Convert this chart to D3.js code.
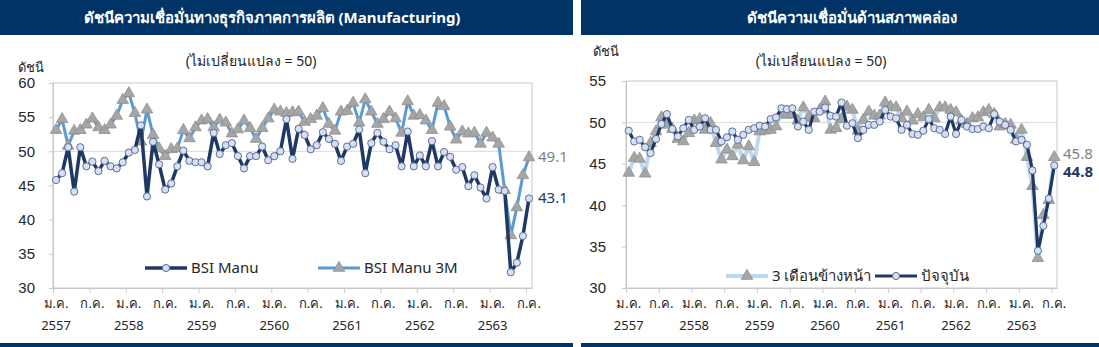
<!DOCTYPE html>
<html>
<head>
<meta charset="utf-8">
<script src="https://cdn.jsdelivr.net/npm/d3@7"></script>
<style>
  html, body { margin: 0; padding: 0; background: #fff; }
  svg { display: block; font-family: "Segoe UI", "Leelawadee UI", Tahoma, "Noto Sans", sans-serif; }
</style>
</head>
<body>
<svg id="chart" width="1099" height="347"></svg>
<script>
// monthly categories, ม.ค. 2557 .. ก.ค. 2563
var startYear = 2557, monthCount = 79;
var monthNames = ["ม.ค.", "ก.ค."];
var yearLabels = ["2557", "2558", "2559", "2560", "2561", "2562", "2563"];
var yTicks = [30, 35, 40, 45, 50, 55, 60];
var yTicksLiq = [30, 35, 40, 45, 50, 55];

// BSI ภาคการผลิต
var bsiManu = [45.8, 46.8, 50.6, 44.1, 50.6, 47.8, 48.5, 47.1, 48.6, 47.8, 47.5, 48.4,
  49.8, 50.2, 53.8, 43.4, 51.4, 48.1, 44.4, 45.3, 47.8, 50.1, 48.6, 48.4,
  48.4, 47.8, 52.7, 49.6, 50.9, 51.2, 49.3, 47.5, 49.3, 49.3, 50.7, 48.7,
  49.3, 50.0, 54.7, 48.9, 53.3, 52.4, 50.3, 50.9, 52.8, 51.8, 51.1, 48.6,
  50.7, 51.1, 53.2, 46.8, 51.2, 52.7, 51.4, 50.3, 50.9, 47.8, 52.9, 47.8,
  49.4, 47.8, 51.5, 47.8, 49.9, 49.2, 47.3, 47.7, 44.9, 46.5, 44.7, 43.1,
  47.7, 44.4, 44.2, 32.3, 33.7, 37.6, 43.1];
var bsiManu3M = [53.1, 54.7, 50.8, 53.0, 53.1, 53.9, 54.8, 53.5, 53.1, 53.9, 55.2, 57.5,
  58.5, 55.6, 51.4, 56.1, 52.4, 50.4, 49.3, 50.3, 50.4, 53.1, 51.9, 53.5,
  54.5, 54.7, 53.5, 54.6, 54.2, 52.6, 53.2, 54.5, 53.4, 51.8, 53.4, 54.8,
  56.1, 55.8, 55.6, 55.7, 55.8, 54.3, 54.7, 55.2, 56.3, 54.0, 53.0, 55.8,
  55.9, 57.1, 54.2, 57.6, 55.8, 54.0, 54.7, 55.8, 54.8, 52.7, 57.3, 55.2,
  55.3, 54.5, 53.1, 57.1, 56.6, 53.6, 51.7, 52.9, 52.6, 52.7, 51.1, 52.7,
  52.0, 51.1, 44.3, 37.7, 41.8, 46.5, 49.1];

// ดัชนีด้านสภาพคล่อง
var liqNow = [49.0, 47.7, 47.9, 47.0, 46.3, 48.0, 49.8, 51.0, 49.2, 48.3, 49.3, 50.3,
  49.1, 49.5, 50.5, 49.1, 49.1, 47.7, 48.2, 48.9, 47.9, 48.5, 49.1, 49.3,
  49.6, 49.5, 50.4, 50.6, 51.7, 51.6, 51.7, 49.5, 50.1, 49.1, 51.3, 51.3,
  51.8, 50.8, 50.7, 52.4, 49.6, 49.9, 48.1, 49.1, 49.7, 49.7, 50.1, 51.5,
  50.7, 50.5, 49.1, 49.7, 48.6, 48.5, 49.0, 50.4, 49.3, 49.1, 48.6, 50.7,
  48.6, 50.3, 49.5, 49.2, 49.2, 49.5, 49.3, 51.0, 50.1, 49.7, 49.1, 47.7,
  47.9, 47.3, 44.2, 34.5, 37.5, 40.8, 44.8];
var liq3M = [43.9, 45.7, 45.6, 43.8, 47.5, 48.9, 50.6, 49.7, 49.2, 48.0, 47.7, 48.7,
  50.2, 50.4, 49.1, 49.9, 47.5, 45.5, 46.7, 45.9, 47.3, 45.4, 47.1, 45.2,
  48.9, 49.0, 49.1, 49.5, 51.1, 50.9, 51.0, 50.2, 51.8, 50.6, 50.5, 51.5,
  52.5, 49.1, 49.3, 50.4, 51.9, 51.5, 49.0, 50.3, 51.3, 50.8, 50.8, 52.4,
  51.9, 51.8, 50.5, 51.3, 50.2, 51.0, 50.6, 51.5, 50.5, 51.8, 51.8, 51.5,
  51.2, 50.2, 49.8, 50.5, 50.6, 51.2, 51.5, 51.0, 49.5, 49.8, 49.7, 47.9,
  49.1, 45.8, 42.3, 33.6, 38.8, 40.6, 45.8];

var NAVY = "#003366";
var svg = d3.select("#chart");

function header(x0, x1, title, tx) {
  svg.append("rect").attr("x", x0).attr("y", 0).attr("width", x1 - x0).attr("height", 35).attr("fill", NAVY);
  svg.append("rect").attr("x", x0).attr("y", 343).attr("width", x1 - x0).attr("height", 4).attr("fill", NAVY);
  svg.append("text").attr("x", tx).attr("y", 23).attr("text-anchor", "middle")
    .attr("fill", "#fff").attr("font-size", 15).attr("font-weight", "bold").text(title);
}

function drawPanel(cfg) {
  var g = svg.append("g");
  var x = d3.scaleLinear().domain([0, monthCount]).range([cfg.left, cfg.right]);
  var y = d3.scaleLinear().domain(cfg.yDomain).range([288, cfg.top]);
  var cx = function(d, i) { return x(i + 0.5); };

  // frame
  g.append("rect").attr("x", cfg.left).attr("y", cfg.top)
    .attr("width", cfg.right - cfg.left).attr("height", 288 - cfg.top)
    .attr("fill", "none").attr("stroke", "#c8c8c8");

  // เส้น 50
  g.append("line").attr("x1", cfg.left).attr("x2", cfg.right)
    .attr("y1", y(50)).attr("y2", y(50)).attr("stroke", "#d9d9d9");

  var ya = g.append("g").attr("transform", "translate(" + cfg.left + ",0)")
    .call(d3.axisLeft(y).tickValues(cfg.yTicks).tickSize(4).tickPadding(cfg.yPad).tickFormat(d3.format("d")));
  ya.selectAll("line, path").attr("stroke", "#c8c8c8");
  ya.selectAll("text").attr("font-size", 15).attr("fill", "#262626").style("font-family", "inherit");

  var xTickIdx = d3.range(0, monthCount, 6);
  var xa = g.append("g").attr("transform", "translate(0,288)")
    .call(d3.axisBottom(x).tickValues(xTickIdx).tickSize(5).tickSizeOuter(0).tickFormat(""));
  xa.selectAll("line, path").attr("stroke", "#c8c8c8");

  g.selectAll(".mlab").data(xTickIdx).join("text")
    .attr("x", function(d) { return x(d + 0.5); }).attr("y", 308)
    .attr("text-anchor", "middle").attr("font-size", 13).attr("fill", "#262626")
    .text(function(d, i) { return monthNames[i % 2]; });
  g.selectAll(".ylab").data(yearLabels).join("text")
    .attr("x", function(d, i) { return x(i * 12 + 0.5); }).attr("y", 330)
    .attr("text-anchor", "middle").attr("font-size", 13).attr("fill", "#262626")
    .text(function(d) { return d; });

  var line = d3.line().x(cx).y(function(d) { return y(d); });
  var tri = d3.symbol(d3.symbolTriangle).size(58);

  // series drawn back to front
  cfg.series.forEach(function(s) {
    g.append("path").datum(s.values).attr("d", line)
      .attr("fill", "none").attr("stroke", s.color).attr("stroke-width", s.width)
      .attr("stroke-linejoin", "round");
    if (s.marker == "tri") {
      g.selectAll(null).data(s.values).join("path")
        .attr("transform", function(d, i) { return "translate(" + cx(d, i) + "," + y(d) + ")"; })
        .attr("d", tri).attr("fill", "#a6a6a6").attr("stroke", "#8f8f8f").attr("stroke-width", 0.8);
    } else {
      g.selectAll(null).data(s.values).join("circle")
        .attr("cx", cx).attr("cy", function(d) { return y(d); }).attr("r", 3.6)
        .attr("fill", "#d6e0f2").attr("stroke", "#5a6f99").attr("stroke-width", 1);
    }
    var last = s.values[s.values.length - 1];
    g.append("text").attr("x", cfg.right + 6).attr("y", y(last) + s.labelDy)
      .attr("font-size", 15).attr("fill", s.labelColor).attr("font-weight", s.labelWeight)
      .text(d3.format(".1f")(last));
  });

  // legend
  cfg.legend.forEach(function(l) {
    var s = l.series;
    g.append("line").attr("x1", l.x).attr("x2", l.x + 42).attr("y1", l.y).attr("y2", l.y)
      .attr("stroke", s.color).attr("stroke-width", s.width);
    if (s.marker == "tri") {
      g.append("path").attr("transform", "translate(" + (l.x + 21) + "," + l.y + ")")
        .attr("d", tri).attr("fill", "#a6a6a6").attr("stroke", "#8f8f8f").attr("stroke-width", 0.8);
    } else {
      g.append("circle").attr("cx", l.x + 21).attr("cy", l.y).attr("r", 3.6)
        .attr("fill", "#d6e0f2").attr("stroke", "#5a6f99");
    }
    g.append("text").attr("x", l.x + 46).attr("y", l.y + 5).attr("font-size", 15)
      .attr("fill", "#262626").text(l.text);
  });

  g.append("text").attr("x", cfg.unitX).attr("y", cfg.unitY).attr("font-size", 13)
    .attr("fill", "#262626").text("ดัชนี");
  g.append("text").attr("x", cfg.subX).attr("y", 66).attr("text-anchor", "middle")
    .attr("font-size", 14).attr("fill", "#262626").text("(ไม่เปลี่ยนแปลง = 50)");
}

header(0, 573, "ดัชนีความเชื่อมั่นทางธุรกิจภาคการผลิต (Manufacturing)", 272);
header(581, 1099, "ดัชนีความเชื่อมั่นด้านสภาพคล่อง", 852);

var manuNow = { values: bsiManu, color: "#1f3864", width: 3.5, marker: "circle", labelColor: "#1f3864", labelWeight: "normal", labelDy: 5 };
var manu3 = { values: bsiManu3M, color: "#5b9bd5", width: 3, marker: "tri", labelColor: "#7f7f7f", labelWeight: "normal", labelDy: 5 };
drawPanel({
  left: 53, right: 532, top: 83, yDomain: [30, 60], yTicks: yTicks, yPad: 14,
  series: [manu3, manuNow],
  legend: [{ series: manuNow, text: "BSI Manu", x: 145, y: 268 }, { series: manu3, text: "BSI Manu 3M", x: 318, y: 268 }],
  unitX: 18, unitY: 72, subX: 251
});

var liqCur = { values: liqNow, color: "#1f3864", width: 3.2, marker: "circle", labelColor: "#1f3864", labelWeight: "bold", labelDy: 12 };
var liqAhead = { values: liq3M, color: "#bdd7ee", width: 4, marker: "tri", labelColor: "#7f7f7f", labelWeight: "normal", labelDy: 2 };
drawPanel({
  left: 626, right: 1057, top: 81, yDomain: [30, 55], yTicks: yTicksLiq, yPad: 16,
  series: [liqAhead, liqCur],
  legend: [{ series: liqAhead, text: "3 เดือนข้างหน้า", x: 726, y: 276 }, { series: liqCur, text: "ปัจจุบัน", x: 875, y: 276 }],
  unitX: 593, unitY: 56, subX: 821
});
</script>
</body>
</html>
